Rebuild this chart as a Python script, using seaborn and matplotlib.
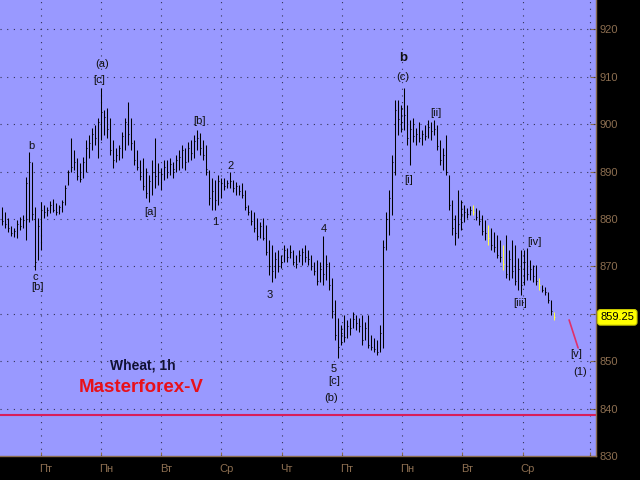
import matplotlib
matplotlib.use("Agg")
import matplotlib.pyplot as plt
import seaborn as sns
import numpy as np

# ---------------- data (Wheat, 1h, HLC bars) ----------------
high = [882.5, 881.5, 880.2, 878.5, 878.1, 879.8, 880.4, 880.8, 888.9, 894.1,
        892.0, 882.5, 880.2, 883.6, 882.9, 882.5, 883.8, 884.2, 883.4, 882.9,
        884.0, 887.2, 890.3, 897.1, 894.5, 892.9, 891.8, 893.1, 896.7, 897.7,
        899.2, 899.8, 901.3, 907.6, 903.0, 903.4, 901.3, 896.7, 895.0, 895.6,
        898.3, 901.3, 904.7, 901.3, 896.7, 894.5, 892.4, 892.9, 890.8, 889.3,
        892.4, 897.1, 891.8, 890.8, 892.4, 892.4, 892.9, 892.0, 893.5, 894.5,
        895.6, 895.0, 896.2, 896.7, 897.7, 898.8, 898.1, 896.7, 895.6, 890.3,
        888.6, 888.2, 889.3, 888.6, 888.6, 888.2, 889.9, 888.2, 887.8, 887.2,
        887.6, 886.1, 882.9, 881.9, 881.5, 880.2, 879.4, 880.2, 878.7, 875.6,
        874.5, 873.0, 873.4, 872.4, 874.5, 873.9, 874.5, 873.4, 872.4, 873.4,
        873.9, 874.5, 873.4, 872.4, 870.9, 871.3, 870.9, 876.4, 872.4, 870.9,
        867.5, 862.9, 859.1, 857.6, 859.7, 858.7, 859.1, 860.4, 859.7, 859.1,
        859.7, 858.3, 859.7, 855.5, 854.9, 854.5, 857.6, 875.6, 881.5, 886.1,
        893.5, 905.1, 905.1, 904.0, 907.6, 904.0, 900.9, 901.3, 899.2, 900.5,
        898.8, 899.8, 900.9, 900.5, 900.9, 899.8, 896.7, 895.0, 897.7, 889.3,
        884.0, 880.8, 886.1, 884.0, 882.9, 882.3, 882.7, 882.9, 882.3, 881.9,
        880.8, 879.8, 878.7, 878.1, 877.2, 876.6, 875.6, 874.5, 876.6, 873.4,
        875.6, 874.5, 871.8, 873.4, 873.4, 873.9, 871.3, 870.3, 870.3, 867.5,
        866.1, 865.6, 864.6, 862.9, 860.4]

low = [878.7, 878.1, 877.2, 876.4, 876.2, 876.0, 877.7, 878.1, 875.6, 879.4,
       879.8, 869.2, 871.3, 873.4, 880.2, 880.6, 881.3, 881.5, 880.8, 881.0,
       881.5, 882.9, 887.2, 889.9, 890.3, 888.2, 887.8, 888.6, 889.9, 892.9,
       894.5, 895.6, 892.9, 896.7, 897.7, 897.1, 893.5, 890.8, 892.0, 892.5,
       892.9, 894.5, 895.6, 894.5, 891.4, 890.3, 888.2, 886.1, 884.4, 883.6,
       885.1, 886.5, 887.2, 886.1, 888.2, 888.6, 889.3, 888.6, 889.9, 890.3,
       890.8, 890.3, 892.0, 892.5, 892.9, 894.5, 893.5, 892.5, 889.3, 882.9,
       881.9, 881.9, 882.9, 884.4, 886.1, 886.5, 886.5, 885.7, 885.1, 885.1,
       884.4, 881.9, 880.8, 878.7, 877.2, 875.6, 876.0, 875.6, 872.4, 868.2,
       866.7, 867.5, 868.8, 869.7, 870.9, 870.9, 871.8, 870.3, 869.7, 870.9,
       870.3, 870.9, 870.3, 869.2, 868.2, 866.1, 866.7, 866.1, 867.1, 865.0,
       859.1, 854.5, 850.7, 853.4, 854.0, 854.9, 855.5, 857.0, 856.6, 856.2,
       853.4, 854.5, 852.8, 852.3, 851.9, 851.3, 851.9, 852.8, 873.4, 876.6,
       880.8, 889.3, 897.7, 898.3, 898.8, 895.6, 891.4, 896.2, 895.6, 896.2,
       895.6, 896.7, 897.1, 896.7, 897.7, 894.5, 891.4, 890.3, 889.3, 881.9,
       876.6, 874.5, 876.0, 877.7, 879.4, 880.2, 880.8, 880.8, 879.8, 878.7,
       876.6, 875.6, 874.5, 873.4, 873.0, 871.8, 870.9, 869.2, 867.5, 867.1,
       867.5, 866.1, 865.0, 864.0, 866.1, 867.1, 867.1, 866.7, 866.1, 865.0,
       864.6, 864.0, 862.3, 859.7, 858.7]

close = [879.5, 879.0, 878.0, 877.0, 877.5, 879.0, 878.5, 879.8, 887.5, 892.0,
         881.0, 871.0, 878.5, 882.0, 881.5, 882.0, 883.0, 882.0, 881.5, 882.5,
         883.5, 886.5, 890.0, 891.0, 892.0, 889.0, 888.5, 892.0, 895.0, 896.0,
         898.0, 897.0, 900.5, 902.5, 901.5, 899.0, 894.5, 892.5, 893.5, 895.0,
         897.5, 900.5, 898.0, 896.0, 892.5, 891.0, 889.0, 887.0, 885.5, 888.0,
         890.0, 889.0, 890.0, 889.5, 891.0, 890.0, 891.5, 890.5, 892.5, 893.0,
         894.5, 892.0, 895.0, 894.0, 896.5, 897.0, 895.0, 893.5, 890.5, 884.5,
         886.0, 884.0, 888.0, 887.5, 887.0, 887.5, 888.0, 886.5, 887.0, 886.0,
         885.0, 882.5, 881.5, 879.5, 878.0, 876.5, 878.5, 876.0, 873.0, 870.0,
         869.0, 871.5, 870.0, 871.0, 873.5, 872.0, 873.0, 871.0, 870.5, 872.5,
         873.0, 872.0, 871.5, 870.0, 869.0, 867.0, 869.5, 868.5, 870.5, 866.0,
         860.5, 855.5, 853.0, 856.0, 855.0, 857.5, 857.0, 859.0, 858.0, 857.5,
         854.5, 857.0, 853.5, 853.0, 852.5, 852.0, 856.0, 874.0, 880.0, 884.5,
         892.0, 903.0, 901.0, 903.5, 902.0, 897.0, 899.0, 897.5, 898.0, 897.0,
         898.0, 897.5, 899.5, 898.5, 899.0, 895.5, 892.5, 893.5, 890.0, 883.0,
         878.0, 877.0, 879.0, 881.0, 881.5, 881.0, 882.0, 881.5, 880.5, 879.5,
         877.5, 877.0, 876.0, 874.5, 874.0, 872.5, 872.0, 870.5, 868.5, 871.5,
         869.0, 867.0, 869.5, 866.0, 871.0, 868.5, 869.5, 868.0, 867.0, 866.0,
         865.0, 864.5, 863.0, 860.5, 859.25]

yellow_bars = [157, 162, 167, 179, 184]

day_labels = ["Пт", "Пн", "Вт", "Ср", "Чт", "Пт", "Пн", "Вт", "Ср"]
day_pos = [13.2, 33.2, 53.2, 73.3, 93.5, 113.5, 133.5, 153.5, 173.8]
extra_grid_x = [196.3]

price_ticks = [830, 840, 850, 860, 870, 880, 890, 900, 910, 920]
last_price = 859.25
support_level = 838.7

proj_x = [189.2, 192.2]
proj_y = [858.7, 852.8]

wave_labels = [
    ("b", 10.1, 895.4, False), ("c", 11.2, 867.8, False), ("[b]", 11.9, 865.6, False),
    ("(a)", 33.6, 912.8, False), ("[c]", 32.6, 909.3, False), ("[a]", 49.6, 881.5, False),
    ("[b]", 65.9, 900.7, False), ("1", 71.4, 879.4, False), ("2", 76.5, 891.2, False),
    ("3", 89.3, 863.9, False), ("4", 107.3, 877.9, False), ("5", 110.8, 848.3, False),
    ("[c]", 110.8, 845.9, False), ("(b)", 109.8, 842.2, False), ("b", 133.9, 913.9, True),
    ("(c)", 133.9, 909.9, False), ("[i]", 135.6, 888.2, False), ("[ii]", 144.8, 902.4, False),
    ("[iv]", 177.6, 875.1, False), ("[iii]", 172.8, 862.3, False), ("[v]", 191.5, 851.5, False),
    ("(1)", 192.8, 847.7, False),
]

# ---------------- style ----------------
sns.set_theme(style="white")
plt.rcParams["font.family"] = ["Liberation Sans", "DejaVu Sans"]

BG = "#9999FF"
BROWN = "#8C6E50"

fig = plt.figure(figsize=(6.4, 4.8), dpi=100, facecolor="black")
ax = fig.add_axes([0, 24 / 480, 595.5 / 640, 456 / 480])
ax.set_facecolor(BG)

n = len(high)
x = np.arange(n)
colors = ["#FFFF40" if i in yellow_bars else "black" for i in range(n)]

ax.vlines(x, low, high, colors=colors, lw=0.75, zorder=3)
ax.hlines(close, x, x + 0.55, colors=colors, lw=0.75, zorder=3)

# support line & projection
sns.lineplot(x=[-1, n + 20], y=[support_level, support_level], ax=ax,
             color="#D81E5B", lw=1.5, zorder=2)
sns.lineplot(x=proj_x, y=proj_y, ax=ax, color="#E0306A", lw=1.2, zorder=3)

ax.set_xlim(-0.5, 198.0)
ax.set_ylim(830, 926.2)

# grid
for gx in day_pos + extra_grid_x:
    ax.axvline(gx, color="#333355", lw=0.8, linestyle=(0, (1, 5)), zorder=1)
for gy in price_ticks[1:]:
    ax.axhline(gy, color="#333355", lw=0.8, linestyle=(0, (1, 5)), zorder=1)

# axes
for s in ["left", "top"]:
    ax.spines[s].set_visible(False)
for s in ["right", "bottom"]:
    ax.spines[s].set_color(BROWN)
    ax.spines[s].set_linewidth(1.0)

ax.yaxis.tick_right()
ax.set_yticks(price_ticks)
ax.set_yticklabels(["" if p == 860 else str(p) for p in price_ticks])
ax.tick_params(axis="y", direction="in", length=4, width=0.8, color=BROWN,
               labelcolor=BROWN, labelsize=8, pad=3, right=True, left=False)
ax.set_xticks(day_pos + extra_grid_x)
ax.set_xticklabels([])
ax.tick_params(axis="x", direction="in", length=3, width=0.8, color=BROWN, bottom=True)

for lab, pos in zip(day_labels, day_pos):
    ax.text(pos + 1.6, -0.028, lab, transform=ax.get_xaxis_transform(),
            ha="center", va="center", fontsize=8, color=BROWN, clip_on=False)

# price tag
ax.annotate(f"{last_price:.2f}", xy=(1, last_price), xycoords=ax.get_yaxis_transform(),
            xytext=(3.5, 0), textcoords="offset points", ha="left", va="center",
            fontsize=8, color="black", annotation_clip=False, zorder=10,
            bbox=dict(boxstyle="round,pad=0.25", fc="#FFFF00", ec="#C8C800", lw=0.8))

# wave labels
for txt, lx, ly, bold in wave_labels:
    ax.text(lx, ly, txt, ha="center", va="center",
            fontsize=9.5 if bold else 8, fontweight="bold" if bold else "normal",
            color="#111111", zorder=5)

ax.text(47.2, 849.0, "Wheat, 1h", ha="center", va="center", fontsize=10,
        fontweight="bold", color="#111133", zorder=5)
ax.text(46.5, 844.5, "Masterforex-V", ha="center", va="center", fontsize=13.5,
        fontweight="bold", color="#E8101A", zorder=5)

fig.savefig("out.png", dpi=100, facecolor="black")
